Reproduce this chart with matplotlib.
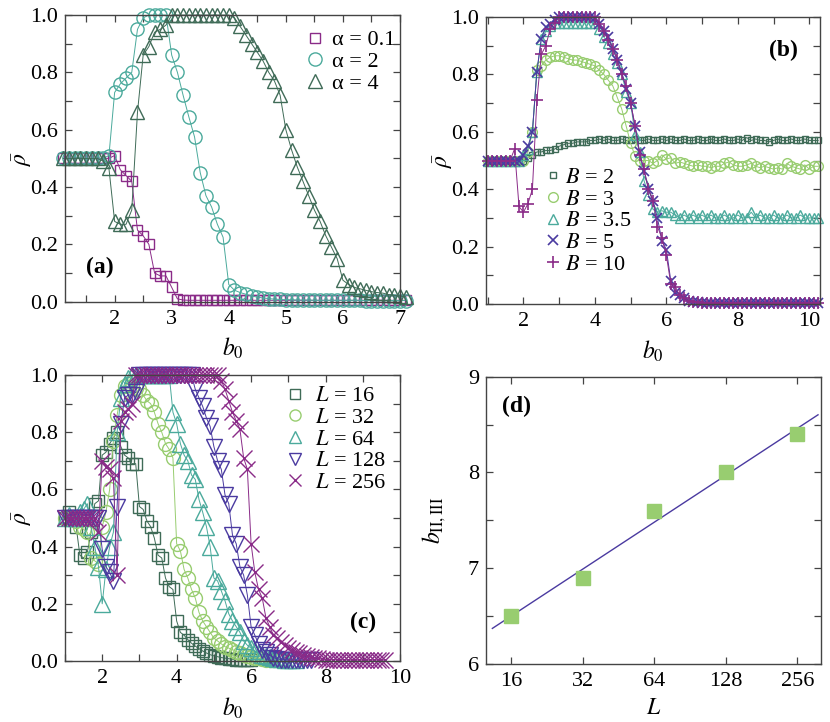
import numpy as np
import matplotlib
matplotlib.use("Agg")
import matplotlib.pyplot as plt
from matplotlib.ticker import MultipleLocator, FixedLocator, NullLocator, FixedFormatter

plt.rcParams["font.family"] = ["Liberation Serif", "DejaVu Serif"]
plt.rcParams["mathtext.fontset"] = "stix"
plt.rcParams["font.size"] = 16

PURPLE = "#8a2b88"
TEAL = "#4baa9c"
DKGREEN = "#3f6b57"
LTGREEN = "#98cd70"
INDIGO = "#4a3aa0"

# ---- panel (a): rho vs b0 for several alpha (grid 1.1 .. 7.1, step 0.1)
xa = np.round(np.arange(1.1, 7.15, 0.1), 2)
rho_a01 = [0.5, 0.5, 0.5, 0.5, 0.5, 0.5, 0.5, 0.5, 0.5, 0.51,
           0.46, 0.44, 0.42, 0.25, 0.23, 0.20, 0.10, 0.09, 0.09, 0.05,
           0.01, 0.006, 0.005, 0.005, 0.005, 0.005, 0.005, 0.005, 0.005, 0.005,
           0.005, 0.005, 0.005, 0.005, 0.005, 0.005, 0.005, 0.005, 0.005, 0.005,
           0.005, 0.005, 0.005, 0.005, 0.005, 0.005, 0.005, 0.005, 0.005, 0.005,
           0.005, 0.005, 0.005, 0.005, 0.005, 0.005, 0.005, 0.005, 0.005, 0.005,
           0.005]
rho_a2 = [0.5, 0.5, 0.5, 0.5, 0.5, 0.5, 0.5, 0.5, 0.51, 0.73,
          0.76, 0.78, 0.80, 0.95, 0.99, 1.0, 1.0, 1.0, 1.0, 0.86,
          0.80, 0.72, 0.645, 0.575, 0.45, 0.37, 0.33, 0.27, 0.225, 0.06,
          0.04, 0.032, 0.026, 0.02, 0.016, 0.013, 0.011, 0.009, 0.008, 0.007,
          0.007, 0.006, 0.006, 0.006, 0.005, 0.005, 0.005, 0.005, 0.005, 0.005,
          0.005, 0.005, 0.005, 0.004, 0.004, 0.004, 0.004, 0.004, 0.004, 0.004,
          0.004]
rho_a4 = [0.5, 0.5, 0.5, 0.5, 0.5, 0.5, 0.5, 0.49, 0.465, 0.28,
          0.27, 0.27, 0.32, 0.66, 0.86, 0.89, 0.94, 0.95, 0.965, 1.0,
          1.0, 1.0, 1.0, 1.0, 1.0, 1.0, 1.0, 1.0, 1.0, 1.0,
          0.99, 0.96, 0.93, 0.90, 0.87, 0.84, 0.80, 0.77, 0.72, 0.60,
          0.53, 0.47, 0.42, 0.37, 0.32, 0.28, 0.23, 0.19, 0.15, 0.075,
          0.06, 0.05, 0.045, 0.04, 0.035, 0.032, 0.03, 0.025, 0.022, 0.02,
          0.017]

# ---- panel (b): rho vs b0 for several B (grid 1.0 .. 10.25, step 0.125)
xb = 1.0 + 0.125 * np.arange(75)
rho_B2 = [0.5, 0.5, 0.5, 0.5, 0.5, 0.5, 0.5, 0.5, 0.5, 0.51,
          0.52, 0.53, 0.53, 0.535, 0.535, 0.54, 0.55, 0.555, 0.56, 0.56,
          0.565, 0.565, 0.565, 0.57, 0.57, 0.575, 0.57, 0.575, 0.57, 0.57,
          0.575, 0.57, 0.57, 0.575, 0.57, 0.57, 0.575, 0.57, 0.57, 0.575,
          0.57, 0.575, 0.57, 0.57, 0.575, 0.57, 0.57, 0.575, 0.57, 0.57,
          0.575, 0.57, 0.57, 0.575, 0.57, 0.57, 0.575, 0.57, 0.58, 0.57,
          0.575, 0.57, 0.57, 0.565, 0.57, 0.575, 0.57, 0.57, 0.575, 0.57,
          0.57, 0.575, 0.57, 0.57, 0.57]
rho_B3 = [0.5, 0.5, 0.5, 0.5, 0.5, 0.5, 0.5, 0.5, 0.5, 0.53,
          0.60, 0.815, 0.83, 0.85, 0.86, 0.865, 0.865, 0.86, 0.855, 0.85,
          0.85, 0.845, 0.84, 0.835, 0.83, 0.815, 0.80, 0.78, 0.76, 0.72,
          0.68, 0.62, 0.56, 0.515, 0.50, 0.50, 0.50, 0.49, 0.50, 0.52,
          0.505, 0.51, 0.49, 0.495, 0.49, 0.485, 0.48, 0.485, 0.48, 0.48,
          0.475, 0.48, 0.48, 0.49, 0.495, 0.485, 0.48, 0.48, 0.485, 0.49,
          0.48, 0.475, 0.48, 0.475, 0.47, 0.475, 0.47, 0.49, 0.48, 0.475,
          0.47, 0.485, 0.47, 0.48, 0.48]
rho_B35 = [0.5, 0.5, 0.5, 0.5, 0.5, 0.5, 0.5, 0.5, 0.52, 0.54,
           0.60, 0.81, 0.925, 0.95, 0.97, 0.98, 0.98, 0.98, 0.98, 0.98,
           0.98, 0.98, 0.98, 0.98, 0.98, 0.96, 0.93, 0.91, 0.87, 0.84,
           0.80, 0.74, 0.70, 0.59, 0.53, 0.43, 0.38, 0.33, 0.32, 0.325,
           0.32, 0.32, 0.31, 0.30, 0.31, 0.30, 0.31, 0.30, 0.31, 0.30,
           0.31, 0.30, 0.30, 0.31, 0.30, 0.30, 0.31, 0.30, 0.30, 0.32,
           0.30, 0.31, 0.30, 0.30, 0.31, 0.30, 0.30, 0.31, 0.30, 0.30,
           0.31, 0.30, 0.30, 0.30, 0.30]
rho_B5 = [0.5, 0.5, 0.5, 0.5, 0.5, 0.5, 0.5, 0.5, 0.52, 0.55,
          0.60, 0.81, 0.925, 0.965, 0.975, 0.99, 1.0, 1.0, 1.0, 1.0,
          1.0, 1.0, 1.0, 1.0, 0.995, 0.975, 0.95, 0.93, 0.89, 0.85,
          0.81, 0.75, 0.70, 0.62, 0.53, 0.465, 0.40, 0.36, 0.30, 0.22,
          0.19, 0.08, 0.04, 0.03, 0.02, 0.012, 0.008, 0.006, 0.005, 0.005,
          0.005, 0.005, 0.005, 0.005, 0.005, 0.005, 0.005, 0.005, 0.005, 0.005,
          0.005, 0.005, 0.005, 0.005, 0.005, 0.005, 0.005, 0.005, 0.005, 0.005,
          0.005, 0.005, 0.005, 0.005, 0.005]
rho_B10 = [0.5, 0.5, 0.5, 0.5, 0.5, 0.5, 0.54, 0.34, 0.32, 0.35,
           0.40, 0.71, 0.87, 0.90, 0.96, 0.98, 1.0, 1.0, 1.0, 1.0,
           1.0, 1.0, 1.0, 1.0, 1.0, 0.975, 0.95, 0.92, 0.89, 0.85,
           0.80, 0.76, 0.70, 0.62, 0.52, 0.47, 0.40, 0.36, 0.27, 0.23,
           0.17, 0.07, 0.06, 0.03, 0.02, 0.012, 0.008, 0.006, 0.005, 0.005,
           0.005, 0.005, 0.005, 0.005, 0.005, 0.005, 0.005, 0.005, 0.005, 0.005,
           0.005, 0.005, 0.005, 0.005, 0.005, 0.005, 0.005, 0.005, 0.005, 0.005,
           0.005, 0.005, 0.005, 0.005, 0.005]

# ---- panel (c): rho vs b0 for several L (grid 1.0 .. , step 0.1)
xc = np.round(np.arange(1.0, 9.65, 0.1), 2)
rho_L16 = [0.5, 0.52, 0.5, 0.47, 0.37, 0.36, 0.38, 0.45, 0.55, 0.56,
           0.72, 0.73, 0.76, 0.78, 0.80, 0.75, 0.72, 0.71, 0.69, 0.69,
           0.54, 0.53, 0.49, 0.47, 0.43, 0.37, 0.36, 0.29, 0.26, 0.25,
           0.14, 0.10, 0.09, 0.075, 0.062, 0.052, 0.043, 0.035, 0.028, 0.022,
           0.018, 0.015, 0.012, 0.01, 0.008, 0.006, 0.005, 0.004, 0.004, 0.003,
           0.003]
rho_L32 = [0.5, 0.5, 0.5, 0.49, 0.47, 0.46, 0.45, 0.36, 0.35, 0.34,
           0.47, 0.52, 0.60, 0.77, 0.86, 0.93, 0.96, 0.97, 0.96, 0.955,
           0.95, 0.93, 0.91, 0.90, 0.87, 0.83, 0.80, 0.76, 0.74, 0.71,
           0.41, 0.385, 0.32, 0.29, 0.25, 0.22, 0.17, 0.14, 0.12, 0.10,
           0.08, 0.07, 0.06, 0.05, 0.045, 0.04, 0.033, 0.028, 0.022, 0.018,
           0.014, 0.011, 0.009, 0.007, 0.005, 0.004, 0.004, 0.003, 0.003]
rho_L64 = [0.5, 0.51, 0.5, 0.5, 0.52, 0.53, 0.55, 0.47, 0.40, 0.33,
           0.20, 0.32, 0.40, 0.45, 0.80, 0.92, 0.97, 0.99, 1.0, 1.0,
           1.0, 1.0, 1.0, 1.0, 1.0, 1.0, 1.0, 1.0, 1.0, 0.87,
           0.83, 0.76, 0.72, 0.70, 0.65, 0.635, 0.565, 0.52, 0.47, 0.40,
           0.29, 0.28, 0.245, 0.21, 0.165, 0.14, 0.12, 0.10, 0.07, 0.055,
           0.045, 0.035, 0.028, 0.022, 0.017, 0.013, 0.01, 0.008, 0.006, 0.005,
           0.004, 0.003, 0.003]
rho_L128 = [0.5, 0.5, 0.5, 0.5, 0.5, 0.5, 0.5, 0.5, 0.5, 0.5,
            0.39, 0.33, 0.31, 0.28, 0.54, 0.83, 0.92, 0.93, 0.93, 0.94,
            1.0, 1.0, 1.0, 1.0, 1.0, 1.0, 1.0, 1.0, 1.0, 1.0,
            1.0, 1.0, 1.0, 1.0, 1.0, 0.95, 0.92, 0.89, 0.85, 0.82,
            0.75, 0.70, 0.67, 0.58, 0.55, 0.44, 0.41, 0.33, 0.30, 0.23,
            0.12, 0.09, 0.06, 0.04, 0.03, 0.02, 0.012, 0.008, 0.005, 0.004,
            0.003, 0.003, 0.003, 0.003, 0.003, 0.003, 0.003]
rho_L256 = [0.5, 0.5, 0.5, 0.5, 0.5, 0.5, 0.5, 0.5, 0.5, 0.45,
            0.70, 0.68, 0.67, 0.64, 0.30, 0.84, 0.87, 0.88, 0.90, 1.0,
            1.0, 1.0, 1.0, 1.0, 1.0, 1.0, 1.0, 1.0, 1.0, 1.0,
            1.0, 1.0, 1.0, 1.0, 1.0, 1.0, 1.0, 1.0, 1.0, 1.0,
            1.0, 1.0, 0.98, 0.95, 0.91, 0.87, 0.84, 0.81, 0.71, 0.67,
            0.41, 0.31, 0.25, 0.22, 0.15, 0.12, 0.09, 0.08, 0.065, 0.055,
            0.047, 0.04, 0.033, 0.027, 0.022, 0.018, 0.014, 0.011, 0.009, 0.007,
            0.005, 0.004, 0.004, 0.004, 0.004, 0.004, 0.003, 0.003, 0.003, 0.003,
            0.003, 0.003, 0.003, 0.003, 0.003, 0.003, 0.003]

# ---- panel (d): transition point vs system size
L_sizes = [16, 32, 64, 128, 256]
b_23 = [6.5, 6.9, 7.6, 8.0, 8.4]
L_fit_range = [13.3, 313.0]

FS_TICK = 16
FS_LAB = 17


def style_axes(ax):
    for s in ax.spines.values():
        s.set_color("#444444")
        s.set_linewidth(1.0)
    ax.tick_params(which="both", direction="in", top=True, right=True,
                   length=5, width=0.9, color="#444444", labelsize=FS_TICK)
    ax.tick_params(axis="x", which="both", pad=6)
    ax.tick_params(axis="y", which="both", pad=5)


def series(ax, x, y, marker, color, ms, label, mew=1.0):
    n = len(y)
    ax.plot(x[:n], y, "-", color=color, lw=0.7, clip_on=False)
    ax.plot(x[:n], y, ls="none", marker=marker, ms=ms, mfc="none",
            mec=color, mew=mew, label=label, clip_on=False)


def rho_axes(ax):
    ax.set_ylim(0, 1)
    ax.yaxis.set_major_locator(MultipleLocator(0.2))
    ax.yaxis.set_minor_locator(MultipleLocator(0.1))
    ax.yaxis.set_major_formatter(plt.FormatStrFormatter("%.1f"))
    ax.set_ylabel(r"$\bar{\rho}$", fontsize=FS_LAB, labelpad=-3)
    ax.set_xlabel(r"$b_0$", fontsize=FS_LAB, labelpad=5)


def legend(ax, anchor, textpad, mscale=1.0):
    ax.legend(loc="upper left", bbox_to_anchor=anchor, frameon=False,
              handlelength=1.0, handletextpad=textpad, labelspacing=0.05,
              borderpad=0, borderaxespad=0, fontsize=16, markerscale=mscale)


fig = plt.figure(figsize=(8.30, 7.22), dpi=100)
ax_a = fig.add_axes([0.0783, 0.5821, 0.4036, 0.3971])
ax_b = fig.add_axes([0.5855, 0.5789, 0.4024, 0.3975])
ax_c = fig.add_axes([0.0783, 0.0845, 0.4036, 0.3961])
ax_d = fig.add_axes([0.5855, 0.0807, 0.4032, 0.3975])

# (a)
series(ax_a, xa, rho_a01, "s", PURPLE, 7.5, "α = 0.1")
series(ax_a, xa, rho_a2, "o", TEAL, 9.5, "α = 2")
series(ax_a, xa, rho_a4, "^", DKGREEN, 10.5, "α = 4")
ax_a.set_xlim(1.13, 7.0)
ax_a.xaxis.set_major_locator(MultipleLocator(1))
ax_a.xaxis.set_minor_locator(MultipleLocator(0.5))
rho_axes(ax_a)
legend(ax_a, (0.713, 0.948), 0.25)
ax_a.text(0.104, 0.121, "(a)", transform=ax_a.transAxes, fontsize=17,
          fontweight="bold", ha="center", va="center")

# (b)
series(ax_b, xb, rho_B2, "s", DKGREEN, 5, r"$B$ = 2")
series(ax_b, xb, rho_B3, "o", LTGREEN, 7, r"$B$ = 3")
series(ax_b, xb, rho_B35, "^", TEAL, 7, r"$B$ = 3.5")
series(ax_b, xb, rho_B5, "x", INDIGO, 7, r"$B$ = 5", mew=1.2)
series(ax_b, xb, rho_B10, "+", PURPLE, 8, r"$B$ = 10", mew=1.2)
ax_b.set_xlim(0.95, 10.3)
ax_b.xaxis.set_major_locator(MultipleLocator(2))
ax_b.xaxis.set_minor_locator(MultipleLocator(1))
rho_axes(ax_b)
legend(ax_b, (0.168, 0.476), 0.05)
ax_b.text(0.89, 0.885, "(b)", transform=ax_b.transAxes, fontsize=17,
          fontweight="bold", ha="center", va="center")

# (c)
series(ax_c, xc, rho_L16, "s", DKGREEN, 9, r"$L$ = 16")
series(ax_c, xc, rho_L32, "o", LTGREEN, 10, r"$L$ = 32")
series(ax_c, xc, rho_L64, "^", TEAL, 11, r"$L$ = 64")
series(ax_c, xc, rho_L128, "v", INDIGO, 11, r"$L$ = 128")
series(ax_c, xc, rho_L256, "x", PURPLE, 11.5, r"$L$ = 256")
ax_c.set_xlim(1.0, 10.0)
ax_c.xaxis.set_major_locator(MultipleLocator(2))
ax_c.xaxis.set_minor_locator(MultipleLocator(1))
rho_axes(ax_c)
legend(ax_c, (0.654, 0.962), 0.4, mscale=0.8)
ax_c.text(0.89, 0.134, "(c)", transform=ax_c.transAxes, fontsize=17,
          fontweight="bold", ha="center", va="center")

# (d)
coef = np.polyfit(np.log2(L_sizes), b_23, 1)
lf = np.array(L_fit_range)
ax_d.plot(lf, np.polyval(coef, np.log2(lf)), "-", color=INDIGO, lw=1.0)
ax_d.plot(L_sizes, b_23, ls="none", marker="s", ms=10, color=LTGREEN,
          mec=LTGREEN)
ax_d.set_xscale("log", base=2)
ax_d.set_xlim(12.5, 321)
ax_d.set_ylim(6, 9)
ax_d.xaxis.set_major_locator(FixedLocator(L_sizes))
ax_d.xaxis.set_major_formatter(FixedFormatter([str(v) for v in L_sizes]))
ax_d.xaxis.set_minor_locator(NullLocator())
ax_d.yaxis.set_major_locator(MultipleLocator(1))
ax_d.yaxis.set_minor_locator(MultipleLocator(0.5))
ax_d.set_xlabel(r"$L$", fontsize=FS_LAB, labelpad=5)
ax_d.set_ylabel(r"$b_{\mathrm{II,III}}$", fontsize=FS_LAB, labelpad=14)
ax_d.text(0.092, 0.898, "(d)", transform=ax_d.transAxes, fontsize=17,
          fontweight="bold", ha="center", va="center")

for ax in (ax_a, ax_b, ax_c, ax_d):
    style_axes(ax)

fig.savefig("out.png", dpi=100)
